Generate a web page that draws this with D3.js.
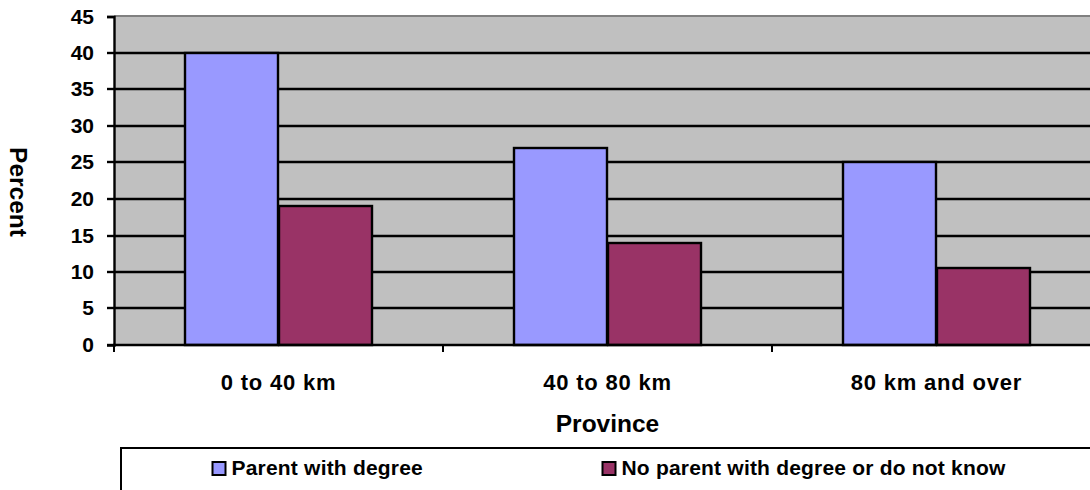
<!DOCTYPE html>
<html>
<head>
<meta charset="utf-8">
<script src="https://cdn.jsdelivr.net/npm/d3@7"></script>
<style>
  html, body { margin: 0; padding: 0; background: #fff; }
  svg { display: block; font-family: "Liberation Sans", Arial, sans-serif; font-weight: bold; }
</style>
</head>
<body>
<svg id="chart" width="1090" height="490"></svg>
<script>
// Distance groups and the share of students in each parental-education group
const categories = ["0 to 40 km", "40 to 80 km", "80 km and over"];
const seriesNames = ["Parent with degree", "No parent with degree or do not know"];
const parentWithDegree = [40, 27, 25];
const noParentWithDegree = [19, 14, 10.5];
const yTicks = [0, 5, 10, 15, 20, 25, 30, 35, 40, 45];
const seriesColors = ["#9999FF", "#993366"];

const seriesValues = [parentWithDegree, noParentWithDegree];
const rows = categories.map((c, i) => ({
  category: c,
  values: seriesNames.map((s, j) => ({ series: s, value: seriesValues[j][i], idx: j }))
}));

const svg = d3.select("#chart");
const plot = { left: 114, right: 1101, top: 16.5, bottom: 345 };

const x0 = d3.scaleBand().domain(categories).range([plot.left, plot.right]).padding(0);
const x1 = d3.scaleBand().domain(seriesNames).range([0, x0.bandwidth()])
  .paddingInner(0).paddingOuter(0.76);
const y = d3.scaleLinear().domain([0, 45]).range([plot.bottom, plot.top]);
const yr = v => Math.round(y(v));

// plot background
svg.append("rect")
  .attr("x", plot.left).attr("y", plot.top)
  .attr("width", plot.right - plot.left).attr("height", plot.bottom - plot.top)
  .attr("fill", "#C0C0C0");

// top border of the plot area
svg.append("line")
  .attr("x1", plot.left).attr("x2", plot.right)
  .attr("y1", 16).attr("y2", 16)
  .attr("stroke", "#808080").attr("stroke-width", 2);

// horizontal gridlines
svg.append("g").selectAll("line")
  .data(yTicks.filter(t => t > 0 && t < 45))
  .join("line")
  .attr("x1", plot.left).attr("x2", plot.right)
  .attr("y1", d => yr(d)).attr("y2", d => yr(d))
  .attr("stroke", "#000").attr("stroke-width", 2.4);

// bars
const groups = svg.append("g").selectAll("g")
  .data(rows)
  .join("g")
  .attr("transform", d => `translate(${Math.round(x0(d.category))},0)`);

groups.selectAll("rect")
  .data(d => d.values)
  .join("rect")
  .attr("x", d => Math.round(x1(d.series)))
  .attr("y", d => yr(d.value))
  .attr("width", Math.round(x1.bandwidth()))
  .attr("height", d => yr(0) - yr(d.value))
  .attr("fill", d => seriesColors[d.idx])
  .attr("stroke", "#000").attr("stroke-width", 2.4);

// y axis
const yAxis = d3.axisLeft(y).tickValues(yTicks).tickSize(7).tickPadding(13);
const gy = svg.append("g").attr("transform", `translate(${plot.left},0)`).call(yAxis);
gy.select(".domain").attr("stroke", "#000").attr("stroke-width", 2.4);
gy.selectAll(".tick").attr("transform", d => `translate(0,${yr(d)})`);
gy.selectAll(".tick line").attr("stroke", "#000").attr("stroke-width", 2.4);
gy.selectAll(".tick text")
  .attr("font-size", 21).attr("font-weight", "bold").attr("fill", "#000")
  .attr("font-family", "Liberation Sans, Arial, sans-serif");

// x axis with ticks on category boundaries
svg.append("line")
  .attr("x1", plot.left - 1).attr("x2", plot.right)
  .attr("y1", plot.bottom).attr("y2", plot.bottom)
  .attr("stroke", "#000").attr("stroke-width", 2.4);
const boundaries = categories.map(c => Math.round(x0(c)));
svg.append("g").selectAll("line")
  .data(boundaries)
  .join("line")
  .attr("x1", d => d).attr("x2", d => d)
  .attr("y1", plot.bottom).attr("y2", plot.bottom + 7)
  .attr("stroke", "#000").attr("stroke-width", 2);

svg.append("g").selectAll("text")
  .data(categories)
  .join("text")
  .attr("x", d => x0(d) + x0.bandwidth() / 2)
  .attr("y", 389.5)
  .attr("text-anchor", "middle")
  .attr("font-size", 22)
  .attr("letter-spacing", 0.8)
  .text(d => d);

// axis titles
svg.append("text")
  .attr("x", (plot.left + plot.right) / 2).attr("y", 431.5)
  .attr("text-anchor", "middle").attr("font-size", 24.5)
  .text("Province");

svg.append("text")
  .attr("transform", "translate(10,192) rotate(90)")
  .attr("text-anchor", "middle").attr("font-size", 24.5)
  .text("Percent");

// legend
svg.append("rect")
  .attr("x", 121).attr("y", 448)
  .attr("width", 1090).attr("height", 60)
  .attr("fill", "#fff").attr("stroke", "#000").attr("stroke-width", 2);

const legendX = [212.5, 602.5];
const legend = svg.append("g").selectAll("g")
  .data(seriesNames)
  .join("g")
  .attr("transform", (d, i) => `translate(${legendX[i]},0)`);
legend.append("rect")
  .attr("x", 0).attr("y", 462)
  .attr("width", 13).attr("height", 13)
  .attr("fill", (d, i) => seriesColors[i])
  .attr("stroke", "#000").attr("stroke-width", 2);
legend.append("text")
  .attr("x", 19).attr("y", 475)
  .attr("font-size", 21)
  .attr("letter-spacing", 0.2)
  .text(d => d);
</script>
</body>
</html>
